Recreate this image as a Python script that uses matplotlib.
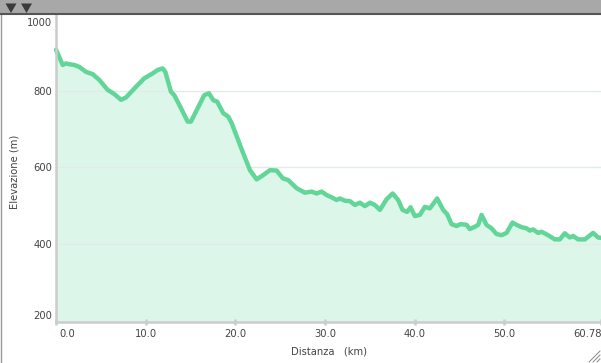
import matplotlib
matplotlib.use("Agg")
import matplotlib.pyplot as plt
import matplotlib.transforms as mtransforms
from matplotlib.patches import Rectangle, Polygon
from matplotlib.lines import Line2D

# ---- data ----
distance_km = [0.0, 0.75, 1.11, 1.48, 2.04, 2.60, 3.34, 4.09, 4.83, 5.76, 6.50, 7.25, 7.80,
               8.92, 9.84, 10.78, 11.34, 11.90, 12.19, 12.82, 13.19, 13.94, 14.68, 15.05,
               15.80, 16.53, 17.06, 17.54, 17.98, 18.65, 19.21, 19.59, 20.88, 21.63, 22.37,
               23.11, 23.86, 24.61, 25.28, 25.90, 26.83, 27.76, 28.51, 29.06, 29.62, 30.18,
               30.74, 31.29, 31.66, 32.22, 32.78, 33.33, 33.89, 34.45, 35.01, 35.56, 36.12,
               36.87, 37.54, 38.16, 38.65, 39.16, 39.54, 40.02, 40.58, 41.14, 41.69, 42.51,
               43.18, 43.62, 44.11, 44.67, 45.12, 45.79, 46.15, 46.71, 47.08, 47.46, 48.01,
               48.57, 49.13, 49.69, 50.25, 50.91, 51.36, 51.92, 52.47, 52.84, 53.21, 53.77,
               54.15, 54.88, 55.63, 56.19, 56.74, 57.30, 57.67, 58.23, 58.97, 59.90, 60.46,
               60.78]
elevation_m = [908, 868, 872, 870, 868, 863, 850, 844, 829, 803, 792, 777, 783,
               811, 833, 846, 855, 859, 850, 798, 789, 755, 720, 720,
               755, 789, 794, 776, 772, 742, 733, 716, 637, 593, 569,
               580, 593, 592, 572, 567, 546, 534, 537, 532, 537, 528,
               522, 515, 519, 513, 512, 502, 508, 499, 508, 502, 489,
               517, 532, 515, 489, 484, 496, 473, 476, 497, 493, 519,
               489, 478, 452, 447, 452, 450, 439, 445, 450, 476, 450,
               441, 426, 423, 429, 456, 450, 444, 441, 435, 438, 429,
               432, 423, 412, 412, 428, 417, 421, 412, 412, 429, 417,
               416]

x_ticks = [0.0, 10.0, 20.0, 30.0, 40.0, 50.0, 60.78]
x_tick_labels = ["0.0", "10.0", "20.0", "30.0", "40.0", "50.0", "60.78"]
y_ticks = [200, 400, 600, 800, 1000]
y_tick_labels = ["200", "400", "600", "800", "1000"]
y_grid = [400, 600, 800]
y_min, y_max = 196, 1000

x_label = "Distanza   (km)"
y_label = "Elevazione (m)"

# ---- figure ----
W, H = 601, 363
fig = plt.figure(figsize=(W / 100, H / 100), dpi=100)
fig.patch.set_facecolor("white")

left_px, right_px, top_px, bottom_px = 56, 601, 14.5, 322
ax = fig.add_axes([left_px / W, 1 - bottom_px / H,
                   (right_px - left_px) / W, (bottom_px - top_px) / H])
ax.set_facecolor("white")

line_color = "#62d698"
fill_color = "#ddf6ea"

ax.fill_between(distance_km, elevation_m, y_min, color=fill_color, lw=0, zorder=1)
for g in y_grid:
    ax.axhline(g, color="#e3ebe6", lw=1.0, zorder=1.5)
ax.plot(distance_km, elevation_m, color=line_color, lw=3.2, solid_joinstyle="round",
        solid_capstyle="round", zorder=3, clip_on=False)

ax.set_xlim(0, 60.78)
ax.set_ylim(y_min, y_max)

for s in ["top", "right"]:
    ax.spines[s].set_visible(False)
for s in ["left", "bottom"]:
    ax.spines[s].set_color("#cccccc")
    ax.spines[s].set_linewidth(1.8)
    ax.spines[s].set_zorder(4)

ax.set_xticks(x_ticks)
ax.set_xticklabels(x_tick_labels)
ax.set_yticks(y_ticks)
ax.set_yticklabels(y_tick_labels)
ax.tick_params(axis="x", direction="inout", length=4, width=1.8, color="#cccccc",
               labelsize=7.2, labelcolor="#444444", pad=3)
ax.tick_params(axis="y", length=0, labelsize=7.2, labelcolor="#444444", pad=3)

def shift(label, dx, dy):
    off = mtransforms.ScaledTranslation(dx / 100, dy / 100, fig.dpi_scale_trans)
    label.set_transform(label.get_transform() + off)

xl = ax.get_xticklabels()
shift(xl[0], 11, 0)
shift(xl[-1], -14, 0)
yl = ax.get_yticklabels()
shift(yl[0], 0, 5)
shift(yl[-1], 0, -8)

fig.text(329 / W, 1 - 352 / H, x_label, ha="center", va="center",
         fontsize=7.2, color="#444444")
fig.text(15 / W, 1 - 172 / H, y_label, ha="center", va="center", rotation=90,
         fontsize=7.2, color="#444444")

# ---- top toolbar ----
bar_h = 13
fig.add_artist(Rectangle((0, 1 - bar_h / H), 1, bar_h / H, transform=fig.transFigure,
                         facecolor="#a8a8a8", edgecolor="none", zorder=10))
fig.add_artist(Line2D([0, 1], [1 - (bar_h + 0.5) / H] * 2, transform=fig.transFigure,
                      color="#555555", lw=1.5, zorder=11))
for cx in (11, 26.5):
    fig.add_artist(Polygon([[(cx - 5.5) / W, 1 - 3.5 / H], [(cx + 5.5) / W, 1 - 3.5 / H],
                            [cx / W, 1 - 13 / H]], closed=True, transform=fig.transFigure,
                           facecolor="#3a3a3a", edgecolor="none", zorder=12))

# left border of the panel
fig.add_artist(Line2D([0.5 / W] * 2, [0, 1], transform=fig.transFigure,
                      color="#9a9a9a", lw=1.0, zorder=9))

# resize grip bottom-right
for k in (4, 8, 12):
    fig.add_artist(Line2D([(W - k) / W, (W - 1) / W], [1 / H, k / H],
                          transform=fig.transFigure, color="#888888", lw=0.7, zorder=9))

fig.savefig("out.png", dpi=100)
